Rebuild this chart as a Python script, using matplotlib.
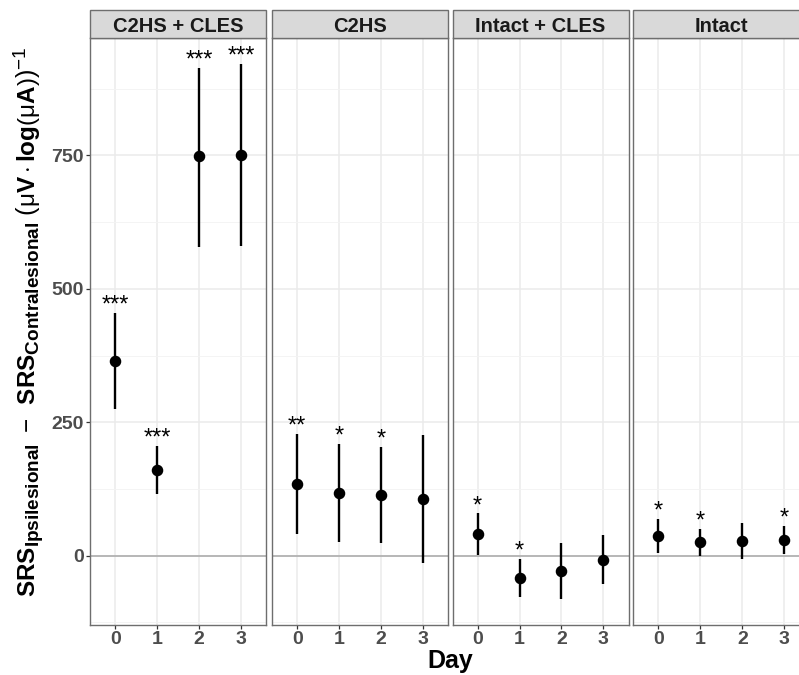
import matplotlib
matplotlib.use("Agg")
import matplotlib.pyplot as plt
from matplotlib.ticker import FixedLocator
from matplotlib.patches import Rectangle
import matplotlib._mathtext as _mt

# plotmath-like subscript size
_mt.SHRINK_FACTOR = 0.78

plt.rcParams['font.family'] = ['Liberation Sans', 'DejaVu Sans']
plt.rcParams['mathtext.fontset'] = 'custom'
plt.rcParams['mathtext.rm'] = 'Liberation Sans'
plt.rcParams['mathtext.bf'] = 'Liberation Sans:bold'
plt.rcParams['mathtext.it'] = 'Liberation Sans:italic'
plt.rcParams['mathtext.sf'] = 'Liberation Sans'

# ---- data ----
days = [0, 1, 2, 3]
groups = ['C2HS + CLES', 'C2HS', 'Intact + CLES', 'Intact']

mean_c2hs_cles = [365, 160, 748, 751]
low_c2hs_cles = [275, 115, 579, 581]
high_c2hs_cles = [454, 206, 913, 921]
sig_c2hs_cles = ['***', '***', '***', '***']

mean_c2hs = [134, 117, 114, 106]
low_c2hs = [40, 26, 23, -13]
high_c2hs = [228, 209, 203, 226]
sig_c2hs = ['**', '*', '*', '']

mean_intact_cles = [41, -41, -28, -8]
low_intact_cles = [2, -77, -81, -54]
high_intact_cles = [79, -6, 24, 38]
sig_intact_cles = ['*', '*', '', '']

mean_intact = [37, 25, 28, 29]
low_intact = [4, 0, -6, 3]
high_intact = [69, 50, 62, 56]
sig_intact = ['*', '*', '', '*']

means = [mean_c2hs_cles, mean_c2hs, mean_intact_cles, mean_intact]
lows = [low_c2hs_cles, low_c2hs, low_intact_cles, low_intact]
highs = [high_c2hs_cles, high_c2hs, high_intact_cles, high_intact]
sigs = [sig_c2hs_cles, sig_c2hs, sig_intact_cles, sig_intact]

# ---- layout ----
W, H = 799, 675
fig = plt.figure(figsize=(W / 100, H / 100), dpi=100)
fig.patch.set_facecolor('white')

panel_left_px = [90, 272, 452.5, 633.3]
panel_w_px = 176
panel_top_px = 38
panel_bot_px = 625
strip_top_px = 10

border_col = '#6e6e6e'
for i, g in enumerate(groups):
    l = panel_left_px[i] / W
    b = (H - panel_bot_px) / H
    w = panel_w_px / W
    h = (panel_bot_px - panel_top_px) / H
    ax = fig.add_axes([l, b, w, h])
    ax.set_facecolor('white')
    ax.set_xlim(-0.6, 3.6)
    ax.set_ylim(-130, 970)
    ax.xaxis.set_major_locator(FixedLocator(days))
    ax.yaxis.set_major_locator(FixedLocator([0, 250, 500, 750]))
    ax.yaxis.set_minor_locator(FixedLocator([-125, 125, 375, 625, 875]))
    ax.grid(which='major', color='#EBEBEB', lw=1.1, zorder=0)
    ax.grid(which='minor', axis='y', color='#F3F3F3', lw=0.6, zorder=0)
    ax.axhline(0, color='#A8A8A8', lw=1.1, zorder=1)
    ax.set_axisbelow(True)

    m, lo, hi, sg = means[i], lows[i], highs[i], sigs[i]
    ax.vlines(days, lo, hi, color='black', lw=1.7, zorder=3)
    ax.plot(days, m, 'o', color='black', ms=7.3, zorder=4)
    for d, top, s in zip(days, hi, sg):
        if s:
            ax.annotate(s, (d, top), xytext=(0, 1.0), textcoords='offset points',
                        ha='center', va='baseline', fontsize=17, color='black')

    for sp in ax.spines.values():
        sp.set_color(border_col)
        sp.set_linewidth(1.0)
    ax.tick_params(axis='both', which='major', length=2.6, width=0.9, color='#333333',
                   labelcolor='#4D4D4D', labelsize=14, pad=1.8)
    ax.tick_params(axis='both', which='minor', length=0)
    for lab in ax.get_xticklabels():
        lab.set_fontweight('bold')
    if i == 0:
        for lab in ax.get_yticklabels():
            lab.set_fontweight('bold')
    else:
        ax.tick_params(axis='y', which='major', length=0, labelleft=False)

    # strip
    sb = (H - panel_top_px) / H
    sh = (panel_top_px - strip_top_px) / H
    fig.patches.append(Rectangle((l, sb), w, sh, transform=fig.transFigure,
                                 facecolor='#D9D9D9', edgecolor=border_col, lw=1.0))
    fig.text(l + w / 2, sb + sh / 2, g, ha='center', va='center_baseline',
             fontsize=14.5, fontweight='bold', color='#1A1A1A')

ylab = (r'$\mathbf{SRS}_{\mathbf{Ipsilesional}}\ -\ \,\mathbf{SRS}_{\mathbf{Contralesional}}'
        r'\ \left(\mathrm{μ}\mathbf{V}\cdot\mathbf{log}\left(\mathrm{μ}\mathbf{A}\right)\right)^{-1}$')
fig.text(29 / W, 1 - 322 / H, ylab, rotation=90, ha='center', va='center',
         fontsize=17.5, color='black')

fig.text(450 / W, (H - 668) / H, 'Day', ha='center', va='baseline',
         fontsize=18, fontweight='bold', color='black')

fig.savefig('out.png', dpi=100)
